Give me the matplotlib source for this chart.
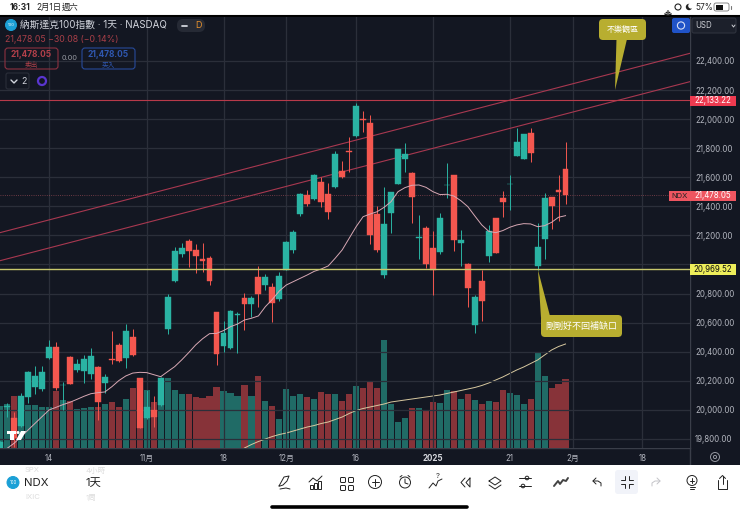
import matplotlib
matplotlib.use('Agg')
import matplotlib.pyplot as plt
import numpy as np
from matplotlib.patches import Rectangle, Circle, FancyBboxPatch, Polygon

plt.rcParams['font.family'] = ['Inter', 'Noto Sans CJK TC', 'DejaVu Sans']

# day index, 0 = Oct 14
days = np.arange(-7, 75)

opens = [19735, 20020, 19942, 19889, 20086, 20155, 20141, 20354, 20434, 20169, 20366, 20276, 20267, 20244,
         20297, 20187, 20349, 20446, 20356, 20501, 20217, 19941, 19999, 20033, 20558, 20886, 21072, 21164,
         21100, 21037, 21044, 20671, 20439, 20425, 20653, 20767, 20728, 20912, 20861, 20843, 20760, 20962,
         21098, 21347, 21480, 21448, 21568, 21485, 21531, 21646, 21783, 21884, 21999, 21973, 21350, 20930,
         21357, 21554, 21726, 21627, 21185, 21249, 21111, 21086, 21545, 21614, 21146, 21004, 20584, 20887,
         21059, 21318, 21455, 21552, 21749, 21728, 21907, 20990, 21178, 21467, 21513, 21655]
highs = [19785, 20045, 19987, 20118, 20269, 20304, 20302, 20480, 20469, 20194, 20370, 20347, 20377, 20428,
         20301, 20246, 20542, 20457, 20588, 20554, 20222, 20136, 20095, 20228, 20797, 21122, 21145, 21173,
         21141, 21145, 21058, 20671, 20613, 20687, 20675, 20806, 20783, 20990, 20935, 20871, 20951, 21160,
         21237, 21490, 21512, 21620, 21600, 21558, 21781, 21714, 21879, 22109, 22056, 22028, 21402, 21531,
         21501, 21795, 21834, 21639, 21341, 21267, 21233, 21352, 21696, 21616, 21238, 21008, 20790, 20962,
         21272, 21320, 21508, 21616, 21937, 21898, 21937, 21283, 21490, 21467, 21616, 21841]
lows = [19730, 19950, 19747, 19880, 20045, 20107, 20132, 20347, 20136, 19999, 20175, 20262, 20187, 20210,
        19930, 20113, 20315, 20331, 20285, 20370, 19872, 19935, 19884, 20029, 20519, 20882, 21049, 20985,
        20939, 20950, 20859, 20308, 20400, 20416, 20393, 20550, 20641, 20705, 20825, 20607, 20747, 20960,
        21077, 21334, 21403, 21444, 21393, 21311, 21526, 21593, 21639, 21879, 21914, 21141, 21088, 20905,
        21214, 21552, 21639, 21288, 21038, 20974, 20790, 21072, 21455, 21091, 20990, 20710, 20531, 20614,
        21020, 21077, 21329, 21375, 21747, 21724, 21703, 20962, 21036, 21242, 21302, 21416]
closes = [19781, 20024, 19804, 20097, 20258, 20233, 20260, 20430, 20148, 20173, 20178, 20313, 20352, 20373,
          20054, 20223, 20345, 20338, 20542, 20375, 19877, 20017, 19953, 20219, 20774, 21093, 21111, 21095,
          21060, 21026, 20886, 20384, 20529, 20678, 20657, 20731, 20767, 20797, 20916, 20738, 20923, 21157,
          21221, 21485, 21414, 21616, 21430, 21359, 21758, 21604, 21774, 22093, 21995, 21201, 21100, 21281,
          21497, 21792, 21760, 21462, 21189, 21004, 20962, 21320, 21549, 21166, 21171, 20839, 20777, 20749,
          21233, 21082, 21432, 21556, 21845, 21896, 21765, 21121, 21455, 21403, 21499, 21478]

volumes = [42, 44, 52, 44, 43, 43, 41, 41, 57, 48, 47, 39, 40, 41, 41, 44, 46, 41, 49, 60, 69, 58, 46, 43,
           70, 58, 54, 54, 51, 50, 52, 61, 57, 55, 52, 63, 52, 72, 47, 42, 29, 59, 52, 54, 51, 49, 56, 54,
           54, 47, 54, 62, 60, 67, 60, 108, 44, 26, 30, 40, 40, 37, 46, 45, 58, 57, 49, 54, 48, 44, 47, 46,
           58, 55, 53, 44, 49, 96, 72, 60, 64, 69]

# pink moving average on price
price_ma_days = np.arange(-6, 75)
price_ma = [19735, 19770, 19815, 19861, 19907, 19953, 19999, 20017, 20036, 20052, 20072, 20093, 20111, 20118,
            20123, 20159, 20201, 20233, 20253, 20258, 20256, 20242, 20228, 20263, 20297, 20343, 20393, 20446,
            20489, 20524, 20526, 20545, 20572, 20590, 20618, 20630, 20646, 20710, 20760, 20818, 20859, 20882,
            20905, 20928, 20953, 20969, 20990, 21043, 21100, 21180, 21260, 21329, 21347, 21363, 21393, 21432,
            21501, 21529, 21545, 21547, 21531, 21501, 21481, 21483, 21471, 21439, 21398, 21334, 21272, 21228,
            21219, 21233, 21256, 21272, 21281, 21279, 21260, 21267, 21290, 21325, 21336]

# tan moving average on volume
vol_ma_days = np.arange(28, 75)
vol_ma = [0, 3.5, 6.5, 9, 11.5, 13.5, 15, 17, 19, 21, 22.5, 24.5, 26, 28.5, 31, 34.5, 37.5, 39.5, 41, 42.5, 44,
          46, 47, 48, 49, 50, 51, 52, 53, 54.5, 56, 57.5, 59, 60.5, 62.5, 65, 68, 71, 74.5, 78, 81, 84.5, 88,
          93, 98, 101.5, 104]

trend_days = [-7.02, 91.83]
trend_upper = [21219, 22453]
trend_lower = [21026, 22258]
resistance = 22133.22
support = 20969.52
last_price = 21478.05

xtick_days = [0, 14, 25, 34, 44, 55, 66, 75, 85]
xtick_labels = ['14', '11月', '18', '12月', '16', '2025', '21', '2月', '18']
price_ticks = np.arange(19800, 22600, 200)

BG = '#131722'
GRID = '#2b2f3a'
TEAL = '#2ab3a3'
RED = '#f4574f'
TEAL_VOL = '#206b66'
RED_VOL = '#873339'
TICK = '#b2b5be'
OLIVE = '#b8ae30'

W, H = 740, 514
fig = plt.figure(figsize=(7.4, 5.14), dpi=100, facecolor='white')
rect = [0, (H - 448) / H, 690 / W, (448 - 17) / H]

under = fig.add_axes([0, 0, 1, 1], zorder=-1)
under.set_xlim(0, W)
under.set_ylim(H, 0)
under.axis('off')
under.add_patch(Rectangle((0, 15), W, 450, color=BG, lw=0))
under.plot([0, W], [15.5, 15.5], color='#000000', lw=1.5)
under.plot([690, 690], [17, 465], color='#3a3e49', lw=1)
under.plot([0, 690], [448, 448], color='#3a3e49', lw=1)

ax = fig.add_axes(rect, zorder=2)
ax.patch.set_visible(False)
ax_vol = ax.twinx()
ax_vol.set_zorder(1)
ax.set_zorder(2)
ax_vol.patch.set_facecolor(BG)
ax_vol.patch.set_visible(True)

ax.set_xlim(-7.02, 91.83)
ax.set_ylim(19737.4, 22702.7)
ax_vol.set_ylim(0, 431)
ax_vol.set_yticks([])

o, c = np.array(opens), np.array(closes)
up = c >= o
body_colors = [TEAL if u else RED for u in up]
vol_colors = [TEAL_VOL if u else RED_VOL for u in up]

ax_vol.bar(days, volumes, width=0.88, color=vol_colors, linewidth=0)
ax_vol.plot(vol_ma_days, vol_ma, color='#d8c9a0', lw=0.7)

ax.vlines(days, lows, highs, colors=body_colors, lw=0.7, zorder=3)
ax.bar(days, np.abs(c - o), bottom=np.minimum(o, c), width=0.84, color=body_colors,
       edgecolor=body_colors, linewidth=0.3, zorder=4)
ax.plot(price_ma_days, price_ma, color='#d8a8b4', lw=0.7, zorder=5)

ax.plot(trend_days, trend_upper, color='#a83850', lw=0.8, zorder=2)
ax.plot(trend_days, trend_lower, color='#a83850', lw=0.8, zorder=2)
ax.axhline(resistance, color='#b83a4a', lw=0.8, zorder=2)
ax.axhline(support, color='#c8c86c', lw=1, zorder=6)
ax.axhline(last_price, color='#8a4650', lw=0.6, ls=':', zorder=2)

ax.set_xticks(xtick_days)
ax.set_xticklabels(xtick_labels)
ax.yaxis.tick_right()
ax.set_yticks(price_ticks)
# the 21,000 label sits behind the support tag
ax.set_yticklabels(['' if p == 21000 else f'{p:,.2f}' for p in price_ticks])
ax.tick_params(axis='both', length=0, labelsize=5.7, labelcolor=TICK)
ax.tick_params(axis='x', pad=4)
ax.tick_params(axis='y', pad=3.6)
for lab in ax.get_xticklabels():
    if lab.get_text() == '2025':
        lab.set_fontweight('bold')
        lab.set_color('#d6d8de')
ax.grid(True, color=GRID, lw=0.9, zorder=0)
ax.set_axisbelow(True)
for a in (ax, ax_vol):
    for s in a.spines.values():
        s.set_visible(False)

ui = fig.add_axes([0, 0, 1, 1], zorder=5)
ui.set_xlim(0, W)
ui.set_ylim(H, 0)
ui.axis('off')
ui.patch.set_visible(False)


def label(x, y, s, size=5.7, color='white', ha='left', **kw):
    ui.text(x, y, s, fontsize=size, color=color, ha=ha, va='center', **kw)


def box(x0, y0, x1, y1, face='none', edge='none', r=2, lw=0.8):
    ui.add_patch(FancyBboxPatch((x0 + r, y0 + r), x1 - x0 - 2 * r, y1 - y0 - 2 * r,
                                boxstyle=f'round,pad={r},rounding_size={r}',
                                facecolor=face, edgecolor=edge, lw=lw))


def line(xs, ys, color='#222222', lw=0.7):
    ui.plot(xs, ys, color=color, lw=lw, solid_capstyle='round')


def ring(x, y, r, color='#222222', lw=0.7, face='none'):
    ui.add_patch(Circle((x, y), r, facecolor=face, edgecolor=color, lw=lw))


# header of the chart
ring(11, 25, 5.5, color='#1ba0d6', face='#1ba0d6')
label(11, 25, '100', 3, ha='center')
label(20, 25, '納斯達克100指數 · 1天 · NASDAQ', 7, '#d1d4dc')
box(177, 19, 205, 32, face='#262a35', r=6)
line([182, 187], [25.5, 25.5], '#d1d4dc', 1.3)
label(198, 25.5, 'D', 6.5, '#e8912d', ha='center')
label(5, 39.5, '21,478.05 −30.08 (−0.14%)', 6.3, '#a83f48')
box(5, 48, 58, 69, edge='#8c3140', r=3)
label(31.5, 54.5, '21,478.05', 6, '#b3404a', ha='center', fontweight='bold')
label(31.5, 64, '卖出', 4.8, '#a83f48', ha='center')
label(70, 58.5, '0.00', 5.3, '#9598a1', ha='center')
box(82, 48, 135, 69, edge='#274a9a', r=3)
label(108.5, 54.5, '21,478.05', 6, '#2f57b0', ha='center', fontweight='bold')
label(108.5, 64, '买入', 4.8, '#2f57b0', ha='center')
box(6, 73, 29, 89, edge='#2a2e39', r=2)
line([11, 14, 17], [80, 83, 80], '#d1d4dc', 1)
label(24, 81, '2', 6.3, '#d1d4dc', ha='center')
ring(42, 81, 4, color='#5a35d0', lw=1.6)

# price axis tags
box(672, 18, 690, 33, face='#2053c8', r=2)
ring(681, 25.5, 3.6, color='#d5def5', lw=0.8)
box(692, 18, 736, 33, face='#1c202b', edge='#2e323d', r=2)
label(695, 25.5, 'USD', 5.7, '#c8cad0')
line([732, 733.5, 735], [25, 27, 25], '#c8cad0', 0.7)
ui.add_patch(Rectangle((690, 95.5), 46, 10, color='#ee3a50', lw=0))
label(713, 100.5, '22,133.22', 5.7, 'white', ha='center')
ui.add_patch(Rectangle((690, 190.5), 46, 10.5, color='#ee5560', lw=0))
label(713, 195.5, '21,478.05', 5.7, 'white', ha='center')
ui.add_patch(Rectangle((669, 190.5), 21, 10.5, color='#ee5560', lw=0))
label(679.5, 195.5, 'NDX', 5.5, '#222222', ha='center')
ui.add_patch(Rectangle((690, 264), 46, 10.5, color='#eeee5a', lw=0))
label(713, 269, '20,969.52', 5.7, '#111111', ha='center')

# callouts
ui.add_patch(Polygon([(616.5, 39), (627, 39), (615, 90)], facecolor=OLIVE, lw=0))
box(599, 19, 646, 40, face=OLIVE, r=4)
label(622.5, 29.5, '不樂觀區', 5.8, 'white', ha='center')
ui.add_patch(Polygon([(538, 270), (541, 318), (550, 316)], facecolor=OLIVE, lw=0))
box(541, 315, 622, 337, face=OLIVE, r=4)
label(581.5, 326, '剛剛好不回補缺口', 6.5, 'white', ha='center')

# TV mark
ui.add_patch(Polygon([(7, 431), (16, 431), (16, 434), (13.5, 434), (13.5, 440), (10, 440), (10, 434), (7, 434)],
                     facecolor='white', lw=0))
ring(18, 432.5, 1.5, color='white', face='white', lw=0)
ui.add_patch(Polygon([(21, 431), (26, 431), (21, 440), (16, 440)], facecolor='white', lw=0))

# gear of the time axis
ring(715, 457, 4.5, color='#9598a1')
ring(715, 457, 1.6, color='#9598a1')

# white panel and status bar
ui.add_patch(Rectangle((0, 465), W, 49, color='white', lw=0))
label(10, 7.5, '16:31', 6, '#222222', fontweight='bold')
label(36, 7.5, '2月1日', 6, '#222222')
label(62, 7.5, '週六', 6, '#222222')
for r in (1, 3, 5):
    ui.add_patch(matplotlib.patches.Arc((668, 10), r * 2, r * 2, theta1=45, theta2=135, color='#222222', lw=1))
ring(678, 7, 3, lw=0.8)
ui.add_patch(Circle((689, 7), 3.2, color='#222222', lw=0))
ui.add_patch(Circle((691, 5.8), 2.8, color='white', lw=0))
label(695, 7.5, '57%', 6, '#222222')
box(714, 3, 729, 11, edge='#777777', r=2, lw=0.6)
ui.add_patch(Rectangle((715.5, 4.5), 7.5, 5, color='#111111', lw=0))
line([730.5, 730.5], [5.5, 8.5], '#777777', 0.8)

# bottom toolbar
label(25, 470, 'SPX', 5.5, '#dddddd')
label(86, 470, '4小時', 5.5, '#dddddd')
label(25, 497, 'IXIC', 5.5, '#dddddd')
label(86, 497, '1周', 5.5, '#dddddd')
ring(13, 482.5, 6, color='#1ba0d6', face='#1ba0d6')
label(13, 482.5, '100', 3.2, ha='center')
label(24, 482.5, 'NDX', 8.2, '#222222')
label(86, 482.5, '1天', 8.2, '#222222')

line([279, 284, 289, 287, 283, 280, 279], [486, 477, 476, 481, 485, 486, 486])
line([280, 286, 290], [489, 488, 489])
line([309, 313, 317, 322], [482, 478, 481, 476])
for bx, bh in ((310, 4), (314, 6), (318, 8)):
    ui.add_patch(Rectangle((bx, 489 - bh), 3, bh, facecolor='none', edgecolor='#222222', lw=0.7))
for gx in (340.5, 348.5):
    for gy in (477.5, 485.5):
        box(gx, gy, gx + 5, gy + 5, edge='#222222', r=1, lw=0.7)
ring(375, 482, 6.5)
line([375, 375], [478.5, 485.5])
line([371.5, 378.5], [482, 482])
ring(405, 482.5, 5.5)
line([405, 405, 408], [479, 483, 484])
line([400, 402], [477, 475.5])
line([408, 410], [475.5, 477])
line([429, 433, 436, 438, 442], [488, 483, 486, 481, 479])
label(438, 476, '?', 5.5, '#222222', ha='center')
line([465, 461, 465], [478, 482.5, 487])
line([470, 466, 470, 470], [478, 482.5, 487, 478])
line([489, 495, 501, 495, 489], [481, 477, 481, 485, 481])
line([489, 495, 501], [485, 489, 485])
line([519, 531], [478, 478])
line([519, 531], [486, 486])
ring(527, 478, 1.8, face='white')
ring(523, 486, 1.8, face='white')
line([554, 558, 560, 563, 566, 568], [486, 481, 484, 480, 481, 478], '#444444', lw=1.4)
line([596, 593, 596], [478, 481, 484])
line([593, 598, 601, 601], [481, 481, 483, 486])
box(615, 470, 638, 494, face='#f1f3f9', r=3)
for dx, dy in ((-1, -1), (1, -1), (-1, 1), (1, 1)):
    line([626.5 + dx * 2, 626.5 + dx * 2, 626.5 + dx * 6], [482 + dy * 6, 482 + dy * 2, 482 + dy * 2])
line([657, 660, 657], [478, 481, 484], '#c4c4c8')
line([660, 655, 652, 652], [481, 481, 483, 486], '#c4c4c8')
ring(692, 480.5, 5)
line([689.5, 694.5], [487, 487])
line([690, 694], [489, 489])
line([692, 692], [478, 483])
line([690, 694], [480.5, 480.5])
line([718, 718, 727, 727], [480, 489, 489, 480])
line([722.5, 722.5], [476, 484])
line([719.5, 722.5, 725.5], [478.5, 475.5, 478.5])
line([272, 467], [507, 507], '#000000', 2.6)

fig.savefig('out.png', dpi=100, facecolor='white')
